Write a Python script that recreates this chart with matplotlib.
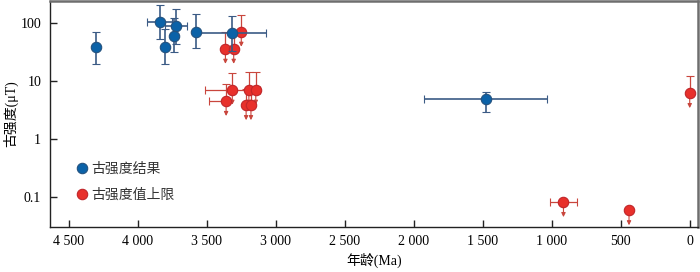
import numpy as np
import matplotlib.pyplot as plt
from matplotlib.lines import Line2D
from matplotlib.ticker import FixedLocator, FixedFormatter, NullLocator

plt.rcParams['font.family'] = ['Liberation Serif', 'Noto Sans CJK SC', 'DejaVu Sans']

# 古强度结果 (blue)
age_b = [4300, 3840, 3725, 3735, 3800, 3580, 3320, 1480]
val_b = [40, 105, 90, 61, 40, 72, 68, 4.9]
lo_b = [20, 55, 45, 32, 20, 37, 34, 3.0]
hi_b = [70, 205, 180, 125, 79, 146, 137, 6.5]
xerr_b = [0, 90, 80, 0, 0, 0, 250, 445]

# 古强度值上限 (red, upper limits)
age_r = [3250, 3365, 3305, 3315, 3360, 3195, 3145, 3215, 3180, 915, 440, 0]
val_r = [72, 36.6, 36.6, 7.2, 4.6, 7.2, 7.2, 3.9, 3.9, 0.083, 0.060, 6.3]
hi_r = [141, 70, 70, 14.1, 9.1, 14.3, 14.3, 7.5, 7.5, 0.083, 0.060, 12.5]
xlo_r = [0, 0, 0, 200, 0, 0, 0, 0, 0, 100, 0, 0]
xhi_r = [0, 0, 0, 200, 125, 0, 0, 0, 0, 100, 0, 0]

xticks = [4500, 4000, 3500, 3000, 2500, 2000, 1500, 1000, 500, 0]
xticklabels = ['4 500', '4 000', '3 500', '3 000', '2 500', '2 000', '1 500', '1 000', '500', '0']
yticks = [0.1, 1, 10, 100]
yticklabels = ['0.1', '1', '10', '100']

blue_face = '#0b62a8'
blue_edge = '#24527f'
blue_bar = '#3b5b85'
red_face = '#e8302b'
red_edge = '#c0262a'
red_bar = '#c9463d'

fig = plt.figure(figsize=(7, 2.72), dpi=100)
ax = fig.add_axes([49.5/700, 1 - 227/272, 648.5/700, 226/272])
ax.set_yscale('log')

# red upper limits
val_r = np.array(val_r)
yerr_r = [np.zeros(len(val_r)), np.array(hi_r) - val_r]
for i in range(len(val_r)):
    ax.annotate('', xy=(age_r[i], val_r[i]*0.55), xytext=(age_r[i], val_r[i]),
                arrowprops=dict(arrowstyle='-|>', color=red_bar, lw=0.8,
                                mutation_scale=6, shrinkA=0, shrinkB=0),
                zorder=2)
ax.errorbar(age_r, val_r, yerr=yerr_r, xerr=[xlo_r, xhi_r], fmt='o',
            ms=7.5, mfc=red_face, mec=red_edge, mew=0.8,
            ecolor=red_bar, elinewidth=0.9, capsize=3.2, capthick=0.9, zorder=3)

# blue results
val_b = np.array(val_b)
yerr_b = [val_b - np.array(lo_b), np.array(hi_b) - val_b]
ax.errorbar(age_b, val_b, yerr=yerr_b, xerr=xerr_b, fmt='o',
            ms=7.5, mfc=blue_face, mec=blue_edge, mew=0.8,
            ecolor=blue_bar, elinewidth=1.2, capsize=3.2, capthick=1.2, zorder=4)

ax.set_xlim(4640, -60)
ax.set_ylim(0.0308, 244)

ax.xaxis.set_major_locator(FixedLocator(xticks))
ax.xaxis.set_major_formatter(FixedFormatter(xticklabels))
ax.yaxis.set_major_locator(FixedLocator(yticks))
ax.yaxis.set_major_formatter(FixedFormatter(yticklabels))
ax.yaxis.set_minor_locator(NullLocator())
ax.tick_params(direction='in', length=5, width=1, labelsize=10, pad=6, color='#222222')

for s in ['left', 'bottom']:
    ax.spines[s].set_color('#222222')
    ax.spines[s].set_linewidth(1.0)
for s in ['top', 'right']:
    ax.spines[s].set_color('#6e6e6e')
    ax.spines[s].set_linewidth(1.8)

lab_font = ['Liberation Serif', 'Noto Sans CJK SC']
ax.set_xlabel('年龄(Ma)', fontsize=10, family=lab_font, labelpad=3)
ax.set_ylabel('古强度(μT)', fontsize=10, family=lab_font)
ax.yaxis.set_label_coords(-0.048, 0.5)

handles = [Line2D([], [], ls='none', marker='o', ms=7.5, mfc=blue_face, mec=blue_edge, mew=0.8),
           Line2D([], [], ls='none', marker='o', ms=7.5, mfc=red_face, mec=red_edge, mew=0.8)]
leg = ax.legend(handles, ['古强度结果', '古强度值上限'], loc='upper left',
                bbox_to_anchor=(0.035, 0.314), frameon=False, handlelength=0.6,
                handletextpad=0.35, labelspacing=0.9, borderaxespad=0,
                prop={'family': ['Noto Sans CJK SC', 'DejaVu Sans'], 'size': 10})
for t in leg.get_texts():
    t.set_color('#333333')

fig.savefig('out.png', dpi=100)
